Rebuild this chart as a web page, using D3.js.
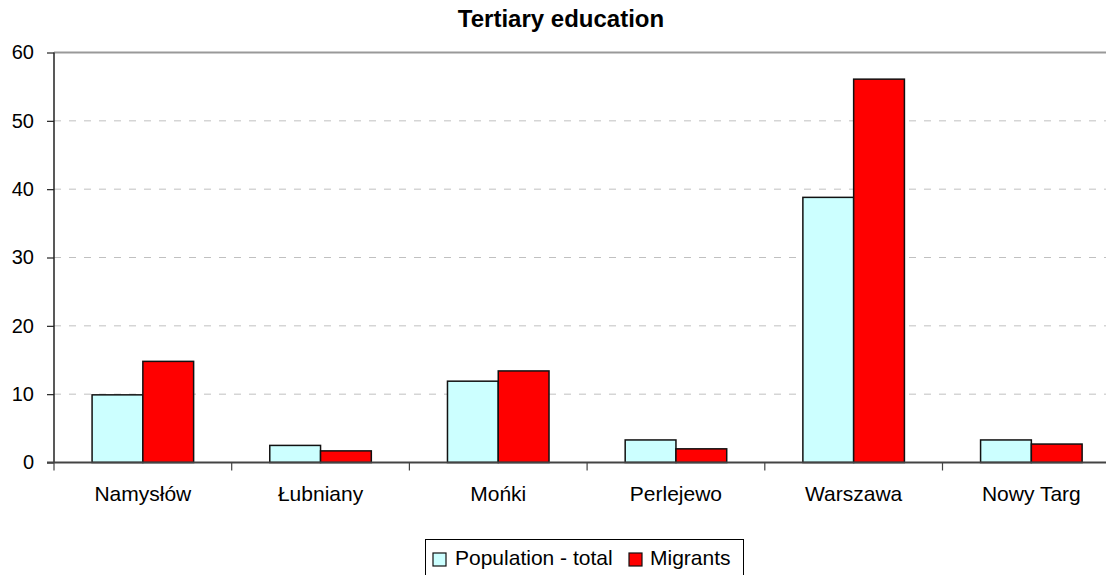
<!DOCTYPE html>
<html>
<head>
<meta charset="utf-8">
<script src="https://cdn.jsdelivr.net/npm/d3@7"></script>
<style>
  html, body { margin: 0; padding: 0; background: #fff; }
  svg { display: block; font-family: Arial, "Liberation Sans", sans-serif; }
</style>
</head>
<body>
<svg id="chart" width="1106" height="575"></svg>
<script>
// Share of people with tertiary education, by locality
const categories = ["Namysłów", "Łubniany", "Mońki", "Perlejewo", "Warszawa", "Nowy Targ"];
const seriesNames = ["Population - total", "Migrants"];
const population = [9.9, 2.5, 11.9, 3.3, 38.8, 3.3];
const migrants = [14.8, 1.7, 13.4, 2.0, 56.1, 2.7];
const yTicks = [0, 10, 20, 30, 40, 50, 60];
const colors = ["#ccffff", "#ff0000"];

const rows = categories.map((c, i) => ({ cat: c, values: [population[i], migrants[i]] }));

const svg = d3.select("#chart");
const W = 1106, H = 575;
svg.append("rect").attr("width", W).attr("height", H).attr("fill", "#fff");

const plotLeft = 54, plotTop = 52.5, plotBottom = 462.5;
const bandW = 177.7;
const plotRight = plotLeft + bandW * categories.length;

const x = d3.scaleBand().domain(categories).range([plotLeft, plotRight]).padding(0);
// Excel-like gap width of 150%: group occupies 2 of 3.5 bar widths
const gap = x.bandwidth() * 1.5 / 3.5;
const xs = d3.scaleBand().domain(d3.range(seriesNames.length))
  .range([gap / 2, x.bandwidth() - gap / 2]).padding(0);
const y = d3.scaleLinear().domain([0, 60]).range([plotBottom, plotTop]);

// dashed gridlines
svg.append("g")
  .selectAll("line")
  .data(yTicks.filter(t => t > 0 && t < 60))
  .join("line")
  .attr("x1", plotLeft).attr("x2", plotRight)
  .attr("y1", d => y(d)).attr("y2", d => y(d))
  .attr("stroke", "#c0c0c0").attr("stroke-width", 1)
  .attr("stroke-dasharray", "7,8");

// plot area top edge
svg.append("line")
  .attr("x1", plotLeft).attr("x2", plotRight)
  .attr("y1", y(60)).attr("y2", y(60))
  .attr("stroke", "#999").attr("stroke-width", 2);

// bars
const groups = svg.append("g").selectAll("g")
  .data(rows)
  .join("g")
  .attr("transform", d => `translate(${x(d.cat)},0)`);

groups.selectAll("rect")
  .data(d => d.values.map((v, k) => ({ v, k })))
  .join("rect")
  .attr("x", d => xs(d.k))
  .attr("width", xs.bandwidth())
  .attr("y", d => y(d.v))
  .attr("height", d => y(0) - y(d.v))
  .attr("fill", d => colors[d.k])
  .attr("stroke", "#111")
  .attr("stroke-width", 1.5);

// y axis
const yAxis = d3.axisLeft(y).tickValues(yTicks).tickSize(7).tickPadding(13).tickFormat(d3.format("d"));
const gy = svg.append("g").attr("transform", `translate(${plotLeft},0)`).call(yAxis);
gy.select(".domain").attr("stroke", "#222").attr("stroke-width", 1.5).attr("d", `M0,${plotTop}V${plotBottom}`);
gy.selectAll(".tick line").attr("stroke", "#222").attr("stroke-width", 1.2);
gy.selectAll(".tick text").attr("font-size", 20).attr("fill", "#000")
  .attr("font-family", "Arial, 'Liberation Sans', sans-serif");

// x axis
const xAxis = d3.axisBottom(x).tickSize(0).tickPadding(24);
const gx = svg.append("g").attr("transform", `translate(0,${plotBottom})`).call(xAxis);
gx.select(".domain").remove();
gx.append("line").attr("x1", plotLeft - 7).attr("x2", plotRight).attr("y1", 0).attr("y2", 0)
  .attr("stroke", "#444").attr("stroke-width", 2);
gx.selectAll(".tick text").attr("font-size", 21).attr("fill", "#000")
  .attr("font-family", "Arial, 'Liberation Sans', sans-serif");
// category separator ticks
gx.append("g").selectAll("line")
  .data(d3.range(categories.length + 1))
  .join("line")
  .attr("x1", i => plotLeft + i * x.step()).attr("x2", i => plotLeft + i * x.step())
  .attr("y1", 0).attr("y2", 8)
  .attr("stroke", "#444").attr("stroke-width", 1.2);

// title
svg.append("text")
  .attr("x", 561).attr("y", 27)
  .attr("text-anchor", "middle")
  .attr("font-size", 24).attr("font-weight", "bold")
  .text("Tertiary education");

// legend
const lg = svg.append("g");
lg.append("rect").attr("x", 425.5).attr("y", 539.5).attr("width", 318).attr("height", 50)
  .attr("fill", "#fff").attr("stroke", "#000").attr("stroke-width", 1);
const items = [
  { name: seriesNames[0], sx: 433, tx: 455 },
  { name: seriesNames[1], sx: 629, tx: 650 }
];
items.forEach((it, k) => {
  lg.append("rect").attr("x", it.sx).attr("y", 553).attr("width", 13).attr("height", 13)
    .attr("fill", colors[k]).attr("stroke", "#111").attr("stroke-width", 1.2);
  lg.append("text").attr("x", it.tx).attr("y", 565)
    .attr("font-size", 21).text(it.name);
});
</script>
</body>
</html>
